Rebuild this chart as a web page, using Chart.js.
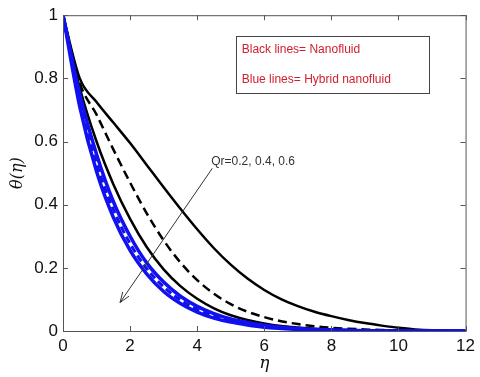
<!DOCTYPE html>
<html>
<head>
<meta charset="utf-8">
<script src="https://cdn.jsdelivr.net/npm/chart.js@4.4.1/dist/chart.umd.min.js"></script>
<style>
  html, body { margin: 0; padding: 0; background: #fff; }
  #contenedor { width: 480px; height: 377px; position: relative; }
</style>
</head>
<body>
<div id="contenedor"><canvas id="graficoTheta"></canvas></div>
<script>
// Valores de eta (eje x)
const eta = [0, 0.5, 1, 1.5, 2, 2.5, 3, 3.5, 4, 4.5, 5, 5.5, 6, 6.5, 7, 7.5, 8, 8.5, 9, 9.5, 10, 10.5, 11, 11.5, 12];

// Nanofluido (líneas negras)
const negroQr06 = [1, 0.80, 0.725, 0.66, 0.595, 0.525, 0.455, 0.387, 0.322, 0.262, 0.21, 0.166, 0.13, 0.101, 0.079, 0.061, 0.047, 0.035, 0.025, 0.017, 0.01, 0.005, 0.002, 0.001, 0];
const negroQr04 = [1, 0.785, 0.685, 0.575, 0.47, 0.372, 0.287, 0.217, 0.161, 0.118, 0.085, 0.061, 0.044, 0.031, 0.022, 0.015, 0.01, 0.007, 0.005, 0.003, 0.002, 0.001, 0, 0, 0];
const negroQr02 = [1, 0.77, 0.60, 0.465, 0.355, 0.265, 0.195, 0.142, 0.102, 0.072, 0.05, 0.035, 0.024, 0.016, 0.011, 0.007, 0.005, 0.003, 0.002, 0.001, 0.001, 0, 0, 0, 0];

// Nanofluido híbrido (líneas azules)
const azulQr06 = [1, 0.75, 0.56, 0.41, 0.30, 0.215, 0.155, 0.11, 0.078, 0.055, 0.038, 0.027, 0.018, 0.012, 0.008, 0.005, 0.003, 0.002, 0.001, 0, 0, 0, 0, 0, 0];
const azulQr04 = [1, 0.73, 0.53, 0.385, 0.277, 0.197, 0.14, 0.098, 0.068, 0.047, 0.032, 0.022, 0.015, 0.01, 0.006, 0.004, 0.002, 0.001, 0, 0, 0, 0, 0, 0, 0];
const azulQr02 = [1, 0.71, 0.505, 0.36, 0.255, 0.18, 0.125, 0.087, 0.06, 0.041, 0.028, 0.019, 0.012, 0.008, 0.005, 0.003, 0.002, 0.001, 0, 0, 0, 0, 0, 0, 0];

// Marcas de los ejes
const ticksX = [0, 2, 4, 6, 8, 10, 12];
const ticksY = [0, 0.2, 0.4, 0.6, 0.8, 1];

// Textos
const textoLeyenda = ['Black lines= Nanofluid', 'Blue lines= Hybrid nanofluid'];
const textoQr = 'Qr=0.2, 0.4, 0.6';

function puntos(valores) {
    return eta.map((x, i) => ({ x: x, y: valores[i] }));
}

function serie(valores, color, ancho, guiones) {
    return {
        data: puntos(valores),
        borderColor: color,
        borderWidth: ancho,
        borderDash: guiones || [],
        pointRadius: 0,
        showLine: true,
        fill: false,
        cubicInterpolationMode: 'monotone'
    };
}

// Plugin para el marco, las marcas internas, la leyenda y la flecha
const marcoPlugin = {
    id: 'marco',
    afterDraw(chart) {
        const { ctx, chartArea: a, scales: { x, y } } = chart;
        ctx.save();
        ctx.strokeStyle = '#555';
        ctx.lineWidth = 1;
        ctx.strokeRect(a.left + 0.5, a.top + 0.5, a.right - a.left, a.bottom - a.top);

        ctx.beginPath();
        ticksX.forEach(v => {
            const px = Math.round(x.getPixelForValue(v)) + 0.5;
            ctx.moveTo(px, a.bottom); ctx.lineTo(px, a.bottom - 5);
            ctx.moveTo(px, a.top); ctx.lineTo(px, a.top + 5);
        });
        ticksY.forEach(v => {
            const py = Math.round(y.getPixelForValue(v)) + 0.5;
            ctx.moveTo(a.left, py); ctx.lineTo(a.left + 5, py);
            ctx.moveTo(a.right, py); ctx.lineTo(a.right - 5, py);
        });
        ctx.stroke();

        // Caja de la leyenda
        const x0 = x.getPixelForValue(5.15), x1 = x.getPixelForValue(10.9);
        const y0 = y.getPixelForValue(0.935), y1 = y.getPixelForValue(0.755);
        ctx.strokeStyle = '#444';
        ctx.strokeRect(Math.round(x0) + 0.5, Math.round(y0) + 0.5, Math.round(x1 - x0), Math.round(y1 - y0));
        ctx.fillStyle = '#d0202e';
        ctx.font = '12px "Liberation Sans", Arial, sans-serif';
        ctx.textBaseline = 'middle';
        ctx.textAlign = 'left';
        ctx.fillText(textoLeyenda[0], x0 + 6, y.getPixelForValue(0.89));
        ctx.fillText(textoLeyenda[1], x0 + 6, y.getPixelForValue(0.795));

        // Texto Qr y flecha
        ctx.fillStyle = '#333';
        ctx.fillText(textoQr, x.getPixelForValue(4.42), y.getPixelForValue(0.537));
        const ax = x.getPixelForValue(4.45), ay = y.getPixelForValue(0.515);
        const bx = x.getPixelForValue(1.7), by = y.getPixelForValue(0.09);
        ctx.strokeStyle = '#333';
        ctx.lineWidth = 1;
        ctx.beginPath();
        ctx.moveTo(ax, ay); ctx.lineTo(bx, by);
        ctx.stroke();
        const ang = Math.atan2(by - ay, bx - ax);
        ctx.beginPath();
        ctx.moveTo(bx - 11 * Math.cos(ang - 0.35), by - 11 * Math.sin(ang - 0.35));
        ctx.lineTo(bx, by);
        ctx.lineTo(bx - 11 * Math.cos(ang + 0.35), by - 11 * Math.sin(ang + 0.35));
        ctx.stroke();
        ctx.restore();
    }
};

const fuenteTicks = { family: '"Liberation Sans", Arial, sans-serif', size: 17 };

const ctxTheta = document.getElementById('graficoTheta');
const graficoTheta = new Chart(ctxTheta, {
    type: 'scatter',
    data: {
        datasets: [
            serie(azulQr06, '#1010f0', 3.5),
            serie(azulQr02, '#1010f0', 3.5),
            serie(azulQr04, '#1010f0', 3, [7, 4]),
            serie(negroQr06, '#000', 2.5),
            serie(negroQr04, '#000', 2.5, [9, 5]),
            serie(negroQr02, '#000', 2.5)
        ]
    },
    options: {
        responsive: true,
        maintainAspectRatio: false,
        animation: false,
        layout: { padding: { top: 13, right: 13, left: 0, bottom: 0 } },
        plugins: {
            legend: { display: false },
            tooltip: { enabled: false }
        },
        scales: {
            x: {
                type: 'linear',
                min: 0,
                max: 12,
                grid: { display: false, drawTicks: false },
                border: { display: false },
                ticks: { stepSize: 2, color: '#111', font: fuenteTicks, padding: 5, maxRotation: 0 },
                title: {
                    display: true,
                    text: 'η',
                    color: '#111',
                    font: { family: '"DejaVu Serif", "Liberation Serif", serif', size: 17, style: 'italic' },
                    padding: { top: 0, bottom: 3 }
                },
                afterFit(scale) { scale.height = 46; }
            },
            y: {
                min: 0,
                max: 1,
                grid: { display: false, drawTicks: false },
                border: { display: false },
                ticks: {
                    stepSize: 0.2,
                    color: '#111',
                    font: fuenteTicks,
                    padding: 5,
                    callback: (valor) => String(Number(valor.toFixed(1)))
                },
                title: {
                    display: true,
                    text: 'θ(η)',
                    color: '#111',
                    font: { family: '"DejaVu Serif", "Liberation Serif", serif', size: 16, style: 'italic' },
                    padding: { top: 8, bottom: 0 }
                },
                afterFit(scale) { scale.width = 63; }
            }
        }
    },
    plugins: [marcoPlugin]
});
</script>
</body>
</html>
